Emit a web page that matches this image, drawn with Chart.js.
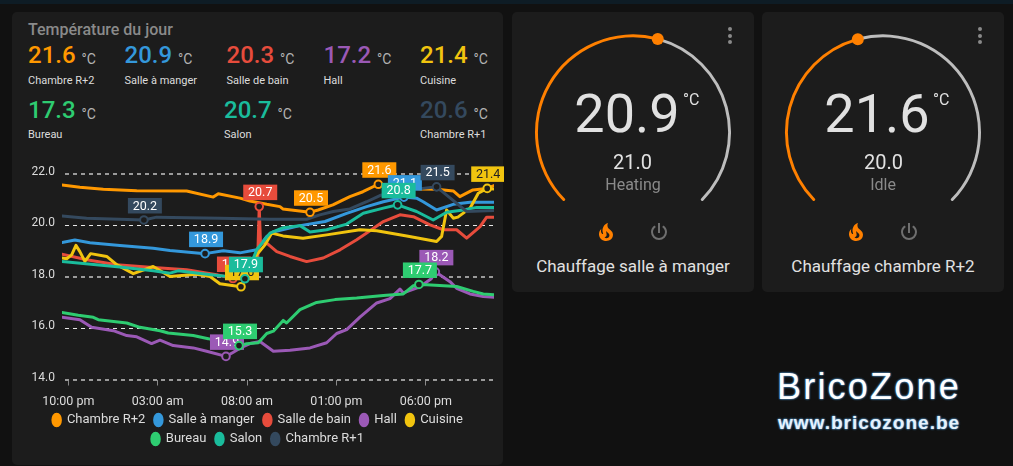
<!DOCTYPE html>
<html>
<head>
<meta charset="utf-8">
<script src="https://cdn.jsdelivr.net/npm/chart.js@4"></script>
<style>
html, body { margin: 0; padding: 0; background: #111111; overflow: hidden; }
body { width: 1013px; height: 466px; position: relative; font-family: Roboto, sans-serif; }
#strip { position: absolute; left: 0; top: 0; width: 1013px; height: 4px; background: #0e1c25; }
.card { position: absolute; background: #1c1c1c; border-radius: 5px; }
canvas { position: absolute; }
.t { position: absolute; white-space: nowrap; line-height: 1; }
.mid { transform: translate(-50%, -50%); }
.left { transform: translateY(-50%); }
.dot { position: absolute; width: 4px; height: 4px; border-radius: 50%; background: #8a8a8a; }
svg { position: absolute; width: 24px; height: 24px; }
.brand { color: #ffffff; font-family: "Liberation Sans", sans-serif; text-shadow: 0 0 2px #4c93cc, 0 0 2px #4c93cc; }
</style>
</head>
<body>
<div id="strip"></div>
<div class="card" style="left:12px;top:12px;width:491px;height:453px"></div>
<div class="card" style="left:512px;top:12px;width:242px;height:280px"></div>
<div class="card" style="left:762px;top:12px;width:242px;height:280px"></div>

<div class="t left" style="left:28px;top:30px;font-size:16px;font-weight:500;color:#8a8a8a">Température du jour</div>
<div id="header"></div>

<canvas id="tempChart" width="479" height="300" style="left:25px;top:156px"></canvas>
<canvas id="gaugeA" width="212" height="184" style="left:527px;top:26px"></canvas>
<canvas id="gaugeB" width="212" height="184" style="left:777px;top:26px"></canvas>

<div class="t mid" style="left:627px;top:114px;font-size:54px;color:#e1e1e1">20.9</div>
<div class="t" style="left:683px;top:92px;font-size:16px;color:#e1e1e1">°C</div>
<div class="t mid" style="left:632.5px;top:162px;font-size:20px;color:#e1e1e1">21.0</div>
<div class="t mid" style="left:633px;top:185px;font-size:16px;color:#8a8a8a">Heating</div>
<div class="t mid" style="left:633px;top:266px;font-size:17px;color:#e1e1e1">Chauffage salle à manger</div>

<div class="t mid" style="left:877px;top:114px;font-size:54px;color:#e1e1e1">21.6</div>
<div class="t" style="left:933px;top:92px;font-size:16px;color:#e1e1e1">°C</div>
<div class="t mid" style="left:883.5px;top:162px;font-size:20px;color:#e1e1e1">20.0</div>
<div class="t mid" style="left:883px;top:185px;font-size:16px;color:#8a8a8a">Idle</div>
<div class="t mid" style="left:883px;top:266px;font-size:17px;color:#e1e1e1">Chauffage chambre R+2</div>

<div class="dot" style="left:728px;top:27px"></div>
<div class="dot" style="left:728px;top:34px"></div>
<div class="dot" style="left:728px;top:40px"></div>
<div class="dot" style="left:978px;top:27px"></div>
<div class="dot" style="left:978px;top:34px"></div>
<div class="dot" style="left:978px;top:40px"></div>

<svg viewBox="0 0 24 24" style="left:594px;top:220px"><path fill="#ff8000" d="M17.66 11.2C17.43 10.9 17.15 10.64 16.89 10.38C16.22 9.78 15.46 9.35 14.82 8.72C13.33 7.26 13 4.85 13.95 3C13 3.23 12.17 3.75 11.46 4.32C8.87 6.4 7.85 10.07 9.07 13.22C9.11 13.32 9.15 13.42 9.15 13.55C9.15 13.77 9 13.97 8.8 14.05C8.57 14.15 8.33 14.09 8.14 13.93C8.08 13.88 8.04 13.83 8 13.76C6.87 12.33 6.69 10.28 7.45 8.64C5.78 10 4.87 12.3 5 14.47C5.06 14.97 5.12 15.47 5.29 15.97C5.43 16.57 5.7 17.17 6 17.7C7.08 19.43 8.95 20.67 10.96 20.92C13.1 21.19 15.39 20.8 17.03 19.32C18.86 17.66 19.5 15 18.56 12.72L18.43 12.46C18.22 12 17.66 11.2 17.66 11.2M14.5 17.5C14.22 17.74 13.76 18 13.4 18.1C12.28 18.5 11.16 17.94 10.5 17.28C11.69 17 12.4 16.12 12.61 15.23C12.78 14.43 12.46 13.77 12.33 13C12.21 12.26 12.23 11.63 12.5 10.94C12.69 11.32 12.89 11.7 13.13 12C13.9 13 15.11 13.44 15.37 14.8C15.41 14.94 15.43 15.08 15.43 15.23C15.46 16.05 15.1 16.95 14.5 17.5H14.5Z"/></svg>
<svg viewBox="0 0 24 24" style="left:647px;top:220px"><path fill="#6f6f6f" d="M16.56,5.44L15.11,6.89C16.84,7.94 18,9.83 18,12A6,6 0 0,1 12,18A6,6 0 0,1 6,12C6,9.83 7.16,7.94 8.88,6.88L7.44,5.44C5.36,6.88 4,9.28 4,12A8,8 0 0,0 12,20A8,8 0 0,0 20,12C20,9.28 18.64,6.88 16.56,5.44M13,3H11V13H13"/></svg>
<svg viewBox="0 0 24 24" style="left:844px;top:220px"><path fill="#ff8000" d="M17.66 11.2C17.43 10.9 17.15 10.64 16.89 10.38C16.22 9.78 15.46 9.35 14.82 8.72C13.33 7.26 13 4.85 13.95 3C13 3.23 12.17 3.75 11.46 4.32C8.87 6.4 7.85 10.07 9.07 13.22C9.11 13.32 9.15 13.42 9.15 13.55C9.15 13.77 9 13.97 8.8 14.05C8.57 14.15 8.33 14.09 8.14 13.93C8.08 13.88 8.04 13.83 8 13.76C6.87 12.33 6.69 10.28 7.45 8.64C5.78 10 4.87 12.3 5 14.47C5.06 14.97 5.12 15.47 5.29 15.97C5.43 16.57 5.7 17.17 6 17.7C7.08 19.43 8.95 20.67 10.96 20.92C13.1 21.19 15.39 20.8 17.03 19.32C18.86 17.66 19.5 15 18.56 12.72L18.43 12.46C18.22 12 17.66 11.2 17.66 11.2M14.5 17.5C14.22 17.74 13.76 18 13.4 18.1C12.28 18.5 11.16 17.94 10.5 17.28C11.69 17 12.4 16.12 12.61 15.23C12.78 14.43 12.46 13.77 12.33 13C12.21 12.26 12.23 11.63 12.5 10.94C12.69 11.32 12.89 11.7 13.13 12C13.9 13 15.11 13.44 15.37 14.8C15.41 14.94 15.43 15.08 15.43 15.23C15.46 16.05 15.1 16.95 14.5 17.5H14.5Z"/></svg>
<svg viewBox="0 0 24 24" style="left:897px;top:220px"><path fill="#6f6f6f" d="M16.56,5.44L15.11,6.89C16.84,7.94 18,9.83 18,12A6,6 0 0,1 12,18A6,6 0 0,1 6,12C6,9.83 7.16,7.94 8.88,6.88L7.44,5.44C5.36,6.88 4,9.28 4,12A8,8 0 0,0 12,20A8,8 0 0,0 20,12C20,9.28 18.64,6.88 16.56,5.44M13,3H11V13H13"/></svg>

<div class="t brand" style="left:777px;top:369px;font-size:36px;letter-spacing:2.2px">BricoZone</div>
<div class="t brand" style="left:778px;top:413px;font-size:19px;font-weight:bold;letter-spacing:1px;color:#e6f2fb">www.bricozone.be</div>

<script>
// temperatures of the last 24 h, hours counted from 10:00 pm
var roomNames = ['Chambre R+2', 'Salle à manger', 'Salle de bain', 'Hall', 'Cuisine', 'Bureau', 'Salon', 'Chambre R+1'];
var roomColors = ['#ff9800', '#3498db', '#e74c3c', '#9b59b6', '#f1c40f', '#2ecc71', '#1abc9c', '#34495e'];
var currentTemps = ['21.6', '20.9', '20.3', '17.2', '21.4', '17.3', '20.7', '20.6'];

var chambre2Hours = [-0.35, 0.65, 1.96, 3.83, 6.62, 8.11, 8.39, 9.6, 10.16, 11.1, 11.84, 12.0, 13.52, 13.97, 14.8, 15.75, 16.48, 17.34, 18.27, 19.67, 20.6, 21.53, 21.9, 22.63, 23.4, 23.81];
var chambre2Temps = [21.57, 21.48, 21.41, 21.35, 21.34, 21.10, 21.23, 21.06, 20.95, 20.82, 20.73, 20.64, 20.51, 20.6, 20.8, 21.12, 21.31, 21.6, 21.53, 21.42, 21.41, 21.34, 21.12, 21.38, 21.44, 21.55];

var salleMangerHours = [-0.35, 0.37, 1.21, 2.89, 4.75, 5.69, 7.65, 8.67, 9.6, 10.54, 11.1, 11.45, 12.96, 14.36, 15.57, 16.69, 17.62, 18.77, 19.48, 19.85, 20.6, 21.53, 22.47, 23.81];
var salleMangerTemps = [19.33, 19.43, 19.32, 19.22, 19.11, 19.02, 18.9, 19.01, 18.93, 19.05, 19.57, 19.74, 19.99, 20.15, 20.47, 20.73, 20.92, 21.1, 21.06, 20.92, 20.6, 20.82, 20.9, 20.9];

var salleBainHours = [-0.35, 1.03, 2.71, 4.75, 6.62, 8.3, 9.21, 10.16, 10.58, 10.68, 10.75, 11.1, 11.66, 12.4, 13.33, 14.26, 15.2, 16.13, 16.69, 17.62, 18.55, 19.3, 20.23, 20.97, 21.72, 22.28, 23.03, 23.4, 23.81];
var salleBainTemps = [18.88, 18.66, 18.47, 18.36, 18.27, 18.08, 17.93, 18.12, 18.35, 20.73, 19.32, 19.31, 18.98, 18.79, 18.59, 18.73, 19.05, 19.44, 19.7, 20.15, 20.41, 20.34, 20.02, 19.83, 19.83, 19.5, 19.95, 20.32, 20.32];

var hallHours = [-0.35, 0.65, 1.31, 2.52, 3.27, 3.83, 4.66, 5.13, 5.87, 6.99, 7.74, 8.82, 9.21, 9.6, 10.16, 10.72, 11.47, 12.4, 13.52, 14.45, 15.01, 15.57, 16.31, 17.25, 17.99, 18.55, 18.74, 19.67, 20.3, 20.53, 21.35, 21.72, 22.47, 23.21, 23.81];
var hallTemps = [16.42, 16.33, 16.03, 15.9, 15.71, 15.66, 15.4, 15.53, 15.32, 15.23, 15.1, 14.9, 15.05, 15.22, 15.4, 15.48, 15.1, 15.14, 15.23, 15.43, 15.79, 15.94, 16.43, 16.98, 17.15, 17.52, 17.37, 17.61, 17.92, 18.19, 17.81, 17.55, 17.33, 17.23, 17.2];

var cuisineHours = [-0.35, -0.09, 0.19, 0.43, 0.65, 0.93, 1.25, 2.15, 2.71, 3.64, 4.75, 5.69, 7.18, 7.93, 8.48, 9.66, 10.16, 10.54, 11.0, 11.38, 12.01, 13.13, 14.45, 16.31, 17.25, 18.93, 20.6, 20.88, 21.16, 21.53, 21.79, 22.47, 22.93, 23.43, 23.81];
var cuisineTemps = [18.73, 18.7, 18.85, 19.22, 18.98, 18.6, 18.9, 18.79, 18.47, 18.12, 18.4, 18.01, 18.1, 18.01, 17.73, 17.61, 18.27, 18.85, 19.24, 19.7, 19.59, 19.5, 19.63, 19.83, 19.79, 19.59, 19.37, 19.57, 20.6, 20.28, 20.32, 20.67, 21.25, 21.44, 21.42];

var bureauHours = [-0.35, 0.56, 1.4, 1.68, 3.27, 4.01, 5.13, 5.59, 6.99, 7.83, 8.76, 9.55, 9.98, 10.63, 11.1, 11.47, 12.02, 12.21, 12.96, 13.89, 14.92, 16.13, 17.62, 18.74, 19.3, 19.61, 20.05, 21.72, 22.65, 23.21, 23.81];
var bureauTemps = [16.61, 16.5, 16.42, 16.33, 16.2, 16.03, 15.9, 15.81, 15.71, 15.59, 15.42, 15.32, 15.39, 15.43, 15.79, 15.88, 16.3, 16.2, 16.72, 17.0, 17.11, 17.17, 17.27, 17.33, 17.65, 17.7, 17.69, 17.62, 17.43, 17.33, 17.3];

var salonHours = [-0.35, 2.89, 4.75, 5.69, 6.14, 7.74, 9.04, 9.88, 10.27, 10.54, 11.28, 12.02, 12.96, 13.52, 14.45, 15.57, 16.5, 17.62, 18.42, 19.48, 20.41, 21.16, 22.09, 22.84, 23.81];
var salonTemps = [18.59, 18.38, 18.23, 18.14, 18.23, 18.1, 18.0, 17.92, 18.58, 19.05, 19.7, 19.91, 19.99, 19.74, 19.83, 20.05, 20.47, 20.67, 20.8, 20.54, 20.21, 20.51, 20.6, 20.7, 20.7];

var chambre1Hours = [-0.35, 1.03, 4.23, 4.94, 8.48, 11.28, 13.33, 14.07, 14.82, 15.75, 16.69, 17.43, 18.27, 19.84, 20.6, 21.35, 22.28, 23.03, 23.81];
var chambre1Temps = [20.37, 20.28, 20.21, 20.32, 20.28, 20.24, 20.24, 20.41, 20.54, 20.64, 20.92, 21.16, 21.3, 21.44, 21.5, 21.07, 20.54, 20.56, 20.58];

var roomHours = [chambre2Hours, salleMangerHours, salleBainHours, hallHours, cuisineHours, bureauHours, salonHours, chambre1Hours];
var roomTemps = [chambre2Temps, salleMangerTemps, salleBainTemps, hallTemps, cuisineTemps, bureauTemps, salonTemps, chambre1Temps];

var xTickHours = [0, 5, 10, 15, 20];
var xTickLabels = ['10:00 pm', '03:00 am', '08:00 am', '01:00 pm', '06:00 pm'];
var yTickValues = [14, 16, 18, 20, 22];

var gaugeSalleManger = [55.5, 44.5];
var gaugeChambre = [44.4, 55.6];

// current readings above the chart
var headerLeft = [28, 124.5, 226.5, 323.5, 420, 28, 224, 420];
var headerRow = [0, 0, 0, 0, 0, 1, 1, 1];
var headerHtml = '';
for (var i = 0; i < roomNames.length; i++) {
    var top1 = headerRow[i] ? 110 : 55;
    var top2 = headerRow[i] ? 134 : 80;
    var left = headerLeft[i];
    headerHtml += '<div class="t left" style="left:' + left + 'px;top:' + top1 + 'px;font-size:24px;font-weight:500;color:' + roomColors[i] + '">' + currentTemps[i] + '</div>';
    headerHtml += '<div class="t left" style="left:' + (left + 53.5) + 'px;top:' + (top1 + 4) + 'px;font-size:14px;color:#b4b4b4">°C</div>';
    headerHtml += '<div class="t left" style="left:' + left + 'px;top:' + top2 + 'px;font-size:11px;color:#dcdcdc">' + roomNames[i] + '</div>';
}
document.getElementById('header').innerHTML = headerHtml;

// min and max flags on each line, read from the dataset itself
var minMaxFlags = {
    id: 'minMaxFlags',
    afterDatasetsDraw: function (chart) {
        var ctx = chart.ctx;
        chart.data.datasets.forEach(function (ds, d) {
            var lo = 0, hi = 0;
            ds.data.forEach(function (p, k) {
                if (p.y < ds.data[lo].y) lo = k;
                if (p.y > ds.data[hi].y) hi = k;
            });
            [lo, hi].forEach(function (k) {
                var x = chart.scales.x.getPixelForValue(ds.data[k].x);
                var y = chart.scales.y.getPixelForValue(ds.data[k].y);
                var boxX = x + 1 - 17;
                var boxY = y - 6.5 - 15.5;
                ctx.save();
                ctx.fillStyle = ds.borderColor;
                ctx.fillRect(boxX, boxY, 34, 15.5);
                ctx.fillStyle = d == 4 ? '#222222' : '#ffffff';
                ctx.font = '12.5px Roboto';
                ctx.textAlign = 'center';
                ctx.textBaseline = 'middle';
                ctx.fillText(ds.data[k].y.toFixed(1), x + 1, boxY + 8.5);
                ctx.beginPath();
                ctx.arc(x, y, 3.8, 0, Math.PI * 2);
                ctx.fillStyle = '#1c1c1c';
                ctx.fill();
                ctx.lineWidth = 2;
                ctx.strokeStyle = ds.borderColor;
                ctx.stroke();
                ctx.restore();
            });
        });
    }
};

var datasets = roomNames.map(function (name, i) {
    return {
        label: name,
        data: roomHours[i].map(function (h, k) { return { x: h, y: roomTemps[i][k] }; }),
        borderColor: roomColors[i],
        backgroundColor: roomColors[i],
        borderWidth: 3,
        pointRadius: 0,
        tension: 0,
        borderJoinStyle: 'round',
        borderCapStyle: 'round',
        order: roomNames.length - i
    };
});

new Chart(document.getElementById('tempChart'), {
    type: 'line',
    data: { datasets: datasets },
    plugins: [minMaxFlags],
    options: {
        responsive: false,
        animation: false,
        layout: { padding: { top: 18, right: 10, left: 0, bottom: 0.5 } },
        plugins: {
            tooltip: { enabled: false },
            legend: {
                position: 'bottom',
                labels: {
                    usePointStyle: true,
                    pointStyle: 'circle',
                    boxHeight: 8.3,
                    pointStyleWidth: 7.5,
                    padding: 6,
                    color: '#dcdcdc',
                    font: { family: 'Roboto', size: 13 },
                    // trailing space widens the gap between items without touching the row height
                    generateLabels: function (chart) {
                        var items = Chart.defaults.plugins.legend.labels.generateLabels(chart);
                        items.forEach(function (it) { it.text += '\u00a0'; });
                        return items;
                    },
                    sort: function (a, b) { return a.datasetIndex - b.datasetIndex; }
                }
            }
        },
        scales: {
            x: {
                type: 'linear',
                min: -0.35,
                max: 23.81,
                afterBuildTicks: function (axis) {
                    axis.ticks = xTickHours.map(function (h) { return { value: h }; });
                },
                afterFit: function (axis) { axis.height = 28; },
                border: { display: false },
                grid: { drawOnChartArea: false, tickLength: 6, tickColor: '#8a8a8a', tickWidth: 1 },
                ticks: {
                    maxRotation: 0,
                    padding: 9,
                    autoSkip: false,
                    color: '#dcdcdc',
                    font: { family: 'Roboto', size: 12.5 },
                    callback: function (value) { return xTickLabels[xTickHours.indexOf(value)]; }
                }
            },
            y: {
                min: 14,
                max: 22,
                afterBuildTicks: function (axis) {
                    axis.ticks = yTickValues.map(function (v) { return { value: v }; });
                },
                afterFit: function (axis) { axis.width = 37; },
                border: { display: false, dash: [4, 4], dashOffset: 5 },
                grid: {
                    drawTicks: false,
                    // 14, 18 and 22 are drawn heavier and greyer than 16 and 20
                    color: function (c) { return c.tick.value % 4 == 2 ? '#9a9a9a' : '#e8e8e8'; },
                    lineWidth: function (c) { return c.tick.value % 4 == 2 ? 2 : 1; }
                },
                ticks: {
                    padding: 7,
                    labelOffset: -2,
                    color: '#dcdcdc',
                    font: { family: 'Roboto', size: 12 },
                    callback: function (value) { return value.toFixed(1); }
                }
            }
        }
    }
});

// round handle at the end of the filled part of the ring
var gaugeHandle = {
    id: 'gaugeHandle',
    afterDatasetsDraw: function (chart) {
        var arc = chart.getDatasetMeta(0).data[0];
        var ctx = chart.ctx;
        var r = (arc.outerRadius + arc.innerRadius) / 2;
        ctx.save();
        ctx.beginPath();
        ctx.arc(arc.x + Math.cos(arc.endAngle) * r, arc.y + Math.sin(arc.endAngle) * r, 6, 0, Math.PI * 2);
        ctx.fillStyle = '#ff8000';
        ctx.fill();
        ctx.restore();
    }
};

function Gauge(id, values) {
    return new Chart(document.getElementById(id), {
        type: 'doughnut',
        data: {
            datasets: [{
                data: values,
                backgroundColor: ['#ff8000', '#bdbdbd'],
                borderWidth: 0,
                borderRadius: 1.5
            }]
        },
        plugins: [gaugeHandle],
        options: {
            responsive: false,
            animation: false,
            rotation: -135,
            circumference: 270,
            cutout: '97%',
            layout: { padding: 8 },
            plugins: { legend: { display: false }, tooltip: { enabled: false } }
        }
    });
}

Gauge('gaugeA', gaugeSalleManger);
Gauge('gaugeB', gaugeChambre);
</script>
</body>
</html>
